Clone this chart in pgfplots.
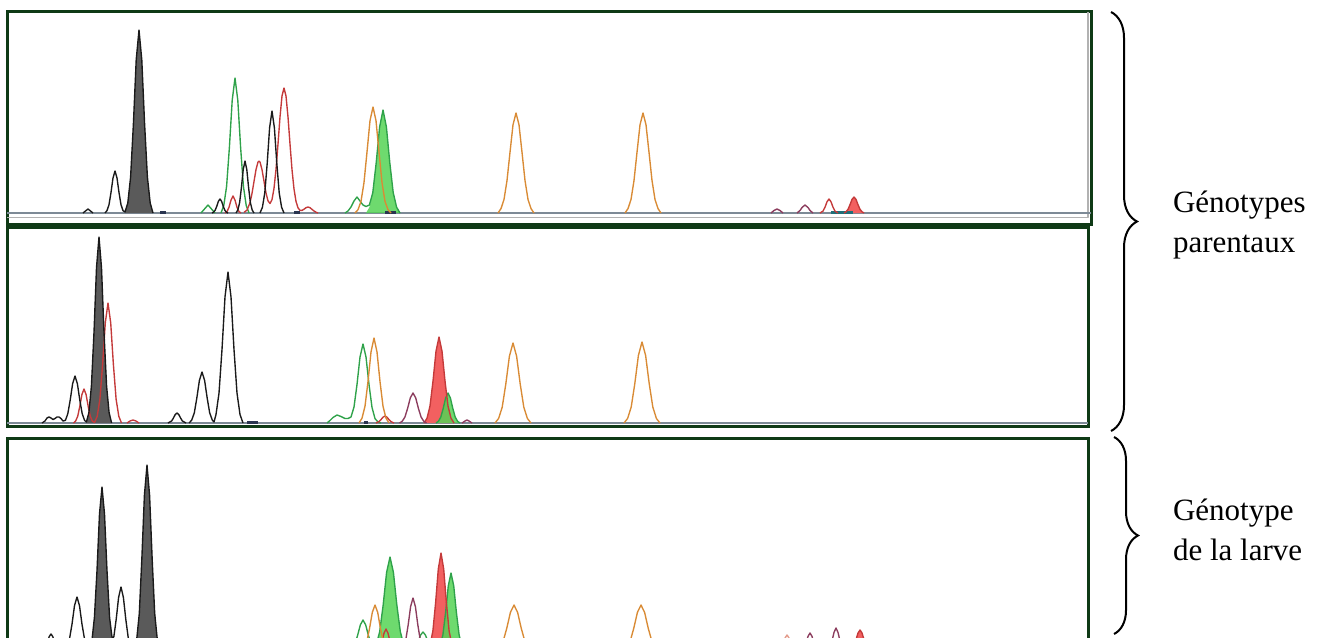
\documentclass[border=0pt]{standalone}
\usepackage{fontspec}
\setmainfont{Liberation Serif}
\usepackage{pgfplots}
\pgfplotsset{compat=1.18}
\usetikzlibrary{decorations.pathreplacing}

\definecolor{frame}{HTML}{0F3A16}
\definecolor{basec}{HTML}{7D8A96}
\definecolor{blk}{HTML}{1A1A1A}
\definecolor{blkfill}{HTML}{5A5A5A}
\definecolor{grn}{HTML}{2FA24A}
\definecolor{grnfill}{HTML}{55D455}
\definecolor{rd}{HTML}{C43A3A}
\definecolor{rdfill}{HTML}{F26060}
\definecolor{org}{HTML}{D98B35}
\definecolor{mar}{HTML}{8C3D5E}
\definecolor{pnk}{HTML}{E39A8A}
\definecolor{mk}{HTML}{2A3550}
\definecolor{tealbar}{HTML}{1F6F78}

\pgfplotsset{panel/.style={scale only axis, xmin=7, xtick=\empty, ytick=\empty,
  axis line style={draw=frame, line width=1.2pt}, unbounded coords=jump,
  every axis plot/.append style={line width=0.55pt, line join=round}}}

\begin{document}
\begin{tikzpicture}
\useasboundingbox (0pt,0pt) rectangle (528.8pt,254.8pt);
\clip (0pt,0pt) rectangle (528.8pt,254.8pt);

% ---------------- Panel 1 ----------------
\begin{axis}[panel, at={(2.8pt,165.2pt)}, anchor=south west,
  xmax=1091, width=433.6pt, ymin=-11, ymax=201, height=84.8pt]
\addplot[gray!60, line width=0.5pt] coordinates {(7,-4.5) (1088,-4.5) (1088,201)};
\addplot[basec, line width=0.7pt] coordinates {(7,0) (1091,0)};
% fills
\addplot[fill=blkfill, draw=none] coordinates {(125,0)(127.8,10)(130.6,36)(133.4,89)(136.2,153)(139,183)(141.8,153)(144.6,89)(147.4,36)(150.2,10)(153,0)};
\addplot[fill=grnfill, fill opacity=0.85, draw=none] coordinates {(366,0)(369.4,5.8)(372.8,20.4)(376.2,50.2)(379.6,86)(383,103)(386.4,86)(389.8,50.2)(393.2,20.4)(396.6,5.8)(400,0)};
\addplot[fill=rdfill, draw=none] coordinates {(844,0)(846,1.2)(848,3.7)(850,8.3)(852,13.6)(854,16)(856,13.6)(858,8.3)(860,3.7)(862,1.2)(864,0)};
% markers
\addplot[mk, line width=1.2pt] coordinates {(160,0.5)(166,0.5) (170,nan) (294,0.5)(300,0.5) (310,nan) (385,0.5)(396,0.5)};
\addplot[tealbar, line width=1.3pt] coordinates {(831,0.5)(853,0.5)};
% green
\addplot[grn] coordinates {(201,0)(204.5,4)(208,8)(211.5,4)(215,0) (218,nan)
 (221,0)(223.8,7.6)(226.6,26.7)(229.4,65.7)(232.2,112.7)(235,135)(237.8,112.7)(240.6,65.7)(243.4,26.7)(246.2,7.6)(249,0) (300,nan)
 (345,0)(348,2)(351,6)(354,12)(357,16)(360,12)(363,8)(366,6.5)(369.4,8)(372.8,20.4)(376.2,50.2)(379.6,86)(383,103)(386.4,86)(389.8,50.2)(393.2,20.4)(396.6,5.8)(400,0)};
% red
\addplot[rd] coordinates {(225,0)(227,1.4)(229,5.7)(231,12.9)(233,17)(235,12.9)(237,5.7)(239,1.4)(241,0) (242,nan)
 (244,0.6)(247,2.9)(250,10.3)(252,19.5)(254,31.5)(256,43.4)(258,51)(259,52)(260,51)(262,43.4)(264,31.7)(266,20.1)(268,12.1)(270,9.5)(272,13.4)(274,24.6)(276,43.6)(278,69)(280,96)(282,117)(284,125)(286,117)(288,96)(290,69)(292,43.4)(294,24)(296,11.6)(298,5.2)(300,2.6)(302,2.6)(304,3.8)(306,5.3)(308,6)(310,5.3)(312,3.6)(314,2)(316,0.8)(318,0) (500,nan)
 (820,0)(823,1.9)(825,5.8)(827,11.2)(829,14)(831,11.2)(833,5.8)(835,1.9)(838,0) (840,nan)
 (844,0)(846,1.2)(848,3.7)(850,8.3)(852,13.6)(854,16)(856,13.6)(858,8.3)(860,3.7)(862,1.2)(864,0)};
% maroon
\addplot[mar] coordinates {(771,0)(774,2.5)(777,4)(780,2.5)(783,0) (790,nan) (797,0)(800,2.5)(802,5.5)(805,8)(808,5.5)(810,2.5)(813,0)};
% orange
\addplot[org] coordinates {(355,0)(358,3.3)(361,11.6)(364,30.5)(367,61)(370,92.3)(373,106)(376,92.3)(379,61)(382,30.5)(385,11.6)(388,3.3)(391,0) (450,nan)
 (498,0)(501,4.4)(504,13.5)(507,32.5)(510,60.7)(513,88.2)(516,100)(519,88.2)(522,60.7)(525,32.5)(528,13.5)(531,4.4)(534,0) (580,nan)
 (625,0)(628,4.4)(631,13.5)(634,32.5)(637,60.7)(640,88.2)(643,100)(646,88.2)(649,60.7)(652,32.5)(655,13.5)(658,4.4)(661,0)};
% black
\addplot[blk] coordinates {(83,0)(85.5,2)(88,4)(90.5,2)(93,0) (100,nan)
 (105,0)(107,2.4)(109,8.3)(111,20.5)(113,35)(115,42)(117,35)(119,20.5)(121,8.3)(123,2.4)(125,1)(127.8,10)(130.6,36)(133.4,89)(136.2,153)(139,183)(141.8,153)(144.6,89)(147.4,36)(150.2,10)(153,0) (180,nan)
 (212,0)(213.6,0.8)(215.2,2.8)(216.8,6.8)(218.4,11.7)(220,14)(221.6,11.7)(223.2,6.8)(224.8,2.8)(226.4,0.8)(228,0) (232,nan)
 (236,0)(237.8,2.9)(239.6,10.3)(241.4,25.3)(243.2,43.4)(245,52)(246.8,43.4)(248.6,25.3)(250.4,10.3)(252.2,2.9)(254,0) (257,nan)
 (260,0)(262.4,5.7)(264.8,20.2)(267.2,49.7)(269.6,85.2)(272,102)(274.4,85.2)(276.8,49.7)(279.2,20.2)(281.6,5.7)(284,0)};
\end{axis}

% ---------------- Panel 2 ----------------
\begin{axis}[panel, at={(2.8pt,84.4pt)}, anchor=south west,
  xmax=1088, width=432.4pt, ymin=-3, ymax=196, height=79.6pt]
\addplot[basec, line width=0.7pt] coordinates {(7,0) (1088,0)};
\addplot[fill=blkfill, draw=none] coordinates {(86.4,0)(88.9,10.4)(91.4,36.8)(94,90.6)(96.5,155.3)(99,186)(101.5,155.3)(104,90.6)(106.6,36.8)(109.1,10.4)(111.6,0)};
\addplot[fill=rdfill, draw=none] coordinates {(424,0)(427,4.8)(430,17)(433,41.9)(436,71.8)(439,86)(442,71.8)(445,41.9)(448,17)(451,4.8)(454,0)};
\addplot[fill=grnfill, fill opacity=0.85, draw=none] coordinates {(436,0)(438.4,1.7)(440.8,5.9)(443.2,14.6)(445.6,25)(448,30)(450.4,25)(452.8,14.6)(455.2,5.9)(457.6,1.7)(460,0)};
\addplot[mk, line width=1.2pt] coordinates {(247,0.5)(258,0.5) (300,nan) (364,0.5)(368,0.5)};
% green
\addplot[grn] coordinates {(327,0)(330,2.5)(333,5.5)(337,8)(341,6.5)(345,4.5)(348,4.5)(351,6)(354,16)(357,38.5)(360,66)(363,79)(366,66)(369,38.5)(372,15.6)(375,4.4)(378,1)(381,0) (400,nan)
 (436,0)(438.4,1.7)(440.8,5.9)(443.2,14.6)(445.6,25)(448,30)(450.4,25)(452.8,14.6)(455.2,5.9)(457.6,1.7)(460,0)};
% red
\addplot[rd] coordinates {(73.5,0)(75.6,1.9)(77.7,6.7)(79.8,16.6)(81.9,28.4)(84,34)(86.1,28.4)(88.2,16.6)(90.3,6.7)(92.4,1.9)(94.5,0.5)(97.2,6.7)(99.9,23.8)(102.6,58.4)(105.3,100.2)(108,120)(110.7,100.2)(113.4,58.4)(116.1,23.8)(118.8,6.7)(121.5,0) (124,nan)
 (127,0)(130,2)(133,3)(136,2)(139,0) (200,nan)
 (376,0)(379,1.4)(381,3.4)(383,5.8)(385,7)(387,5.8)(389,3.4)(391,1.4)(394,0) (400,nan)
 (424,0)(427,4.8)(430,17)(433,41.9)(436,71.8)(439,86)(442,71.8)(445,41.9)(448,17)(451,4.8)(454,0)};
% maroon
\addplot[mar] coordinates {(399.5,0)(402.2,1.7)(404.9,5.9)(407.6,14.6)(410.3,25.1)(413,30)(415.7,25.1)(418.4,14.6)(421.1,5.9)(423.8,1.7)(426.5,0) (440,nan)
 (462,0)(465,2)(467,3)(469,2)(472,0)};
% orange
\addplot[org] coordinates {(359,0)(362,4.8)(365,16.8)(368,41.4)(371,71)(374,85)(377,71)(380,41.4)(383,16.8)(386,4.8)(389,0) (450,nan)
 (495,0)(498.6,4.5)(502.2,15.8)(505.8,39)(509.4,66.8)(513,80)(516.6,66.8)(520.2,39)(523.8,15.8)(527.4,4.5)(531,0) (580,nan)
 (624,0)(627.6,4.5)(631.2,16)(634.8,39.4)(638.4,67.6)(642,81)(645.6,67.6)(649.2,39.4)(652.8,16)(656.4,4.5)(660,0)};
% black
\addplot[blk] coordinates {(42,0)(45,2)(47,5)(49,6)(51,5)(53,3.5)(55,4.5)(57,6)(59,6)(61,4.5)(63,2)(65.4,2.6)(67.8,9.3)(70.2,22.9)(72.6,39.2)(75,47)(77.4,39.2)(79.8,22.9)(82.2,9.3)(84.6,2.6)(86.4,1)(88.9,10.4)(91.4,36.8)(94,90.6)(96.5,155.3)(99,186)(101.5,155.3)(104,90.6)(106.6,36.8)(109.1,10.4)(111.6,0) (140,nan)
 (168,0)(171.6,2)(173.4,4.9)(175.2,8.4)(177,10)(178.8,8.4)(180.6,4.9)(182.4,2)(186,0) (187,nan)
 (189.1,0)(191.7,2.9)(194.3,10.1)(196.8,24.8)(199.4,42.6)(202,51)(204.6,42.6)(207.2,24.8)(209.7,10.1)(212.3,2.9)(214,1)(216,8.5)(219,29.9)(222,73.5)(225,126.1)(228,151)(231,126.1)(234,73.5)(237,29.9)(240,8.5)(243,0)};
\end{axis}

% ---------------- Panel 3 ----------------
\begin{axis}[panel, at={(2.8pt,-9.2pt)}, anchor=south west,
  xmax=1088, width=432.4pt, ymin=-10, ymax=212, height=88.8pt]
\addplot[basec, line width=0.7pt] coordinates {(7,0) (1088,0)};
\addplot[fill=blkfill, draw=none] coordinates {(89.4,0)(91.9,9.1)(94.4,32.3)(97,79.4)(99.5,136.1)(102,163)(104.5,136.1)(107,79.4)(109.6,32.3)(112.1,9.1)(114.6,0)};
\addplot[fill=blkfill, draw=none] coordinates {(134.1,0)(136.7,10.4)(139.3,36.6)(141.8,90.1)(144.4,154.5)(147,185)(149.6,154.5)(152.2,90.1)(154.7,36.6)(157.3,10.4)(159.9,0)};
\addplot[fill=grnfill, fill opacity=0.85, draw=none] coordinates {(372.9,0)(376.3,5.2)(379.7,18.4)(383.2,45.3)(386.6,77.7)(390,93)(393.4,77.7)(396.8,45.3)(400.3,18.4)(403.7,5.2)(407.1,0)};
\addplot[fill=rdfill, draw=none] coordinates {(427.5,0)(430.2,5.4)(432.9,19.2)(435.6,47.2)(438.3,81)(441,97)(443.7,81)(446.4,47.2)(449.1,19.2)(451.8,5.4)(454.5,0)};
\addplot[fill=grnfill, fill opacity=0.85, draw=none] coordinates {(437.5,0)(440.2,4.3)(442.9,15.2)(445.6,37.5)(448.3,64.3)(451,77)(453.7,64.3)(456.4,37.5)(459.1,15.2)(461.8,4.3)(464.5,0)};
\addplot[fill=rdfill, draw=none] coordinates {(850,0)(852,1.5)(854,4.6)(856,10.4)(858,17)(860,20)(862,17)(864,10.4)(866,4.6)(868,1.5)(870,0)};
% green
\addplot[grn] coordinates {(349.5,0)(352.2,1.7)(354.9,5.9)(357.6,14.6)(360.3,25)(363,30)(365.7,25)(368.4,14.6)(371.1,5.9)(373.8,4)(376.3,5.2)(379.7,18.4)(383.2,45.3)(386.6,77.7)(390,93)(393.4,77.7)(396.8,45.3)(400.3,18.4)(403.7,5.2)(407.1,1)(411,1)(413.4,1.5)(415.8,3.6)(418.2,8.8)(420.6,15)(423,18)(425.4,15)(427.8,8.8)(430.2,3.6)(432.6,1.5)(437.5,1)(440.2,4.3)(442.9,15.2)(445.6,37.5)(448.3,64.3)(451,77)(453.7,64.3)(456.4,37.5)(459.1,15.2)(461.8,4.3)(464.5,0)};
% red
\addplot[rd] coordinates {(377,0)(380,2.8)(382,8.6)(384,16.8)(386,21)(388,16.8)(390,8.6)(392,2.8)(395,0) (410,nan)
 (427.5,0)(430.2,5.4)(432.9,19.2)(435.6,47.2)(438.3,81)(441,97)(443.7,81)(446.4,47.2)(449.1,19.2)(451.8,5.4)(454.5,0) (600,nan)
 (850,0)(852,1.5)(854,4.6)(856,10.4)(858,17)(860,20)(862,17)(864,10.4)(866,4.6)(868,1.5)(870,0)};
% maroon
\addplot[mar] coordinates {(401,0)(403.4,2.9)(405.8,10.3)(408.2,25.3)(410.6,43.4)(413,52)(415.4,43.4)(417.8,25.3)(420.2,10.3)(422.6,2.9)(425,0) (600,nan)
 (801,0)(804,2.3)(806,7)(808,13.6)(810,17)(812,13.6)(814,7)(816,2.3)(819,0) (820,nan)
 (827,0)(830,3)(832,9)(834,17.6)(836,22)(838,17.6)(840,9)(842,3)(845,0)};
% orange
\addplot[org] coordinates {(361.5,0)(364.2,2.5)(366.9,8.9)(369.6,21.9)(372.3,37.6)(375,45)(377.7,37.6)(380.4,21.9)(383.1,8.9)(385.8,2.5)(388.5,0) (450,nan)
 (496,0)(499.6,2.5)(503.2,8.9)(506.8,21.9)(510.4,37.6)(514,45)(517.6,37.6)(521.2,21.9)(524.8,8.9)(528.4,2.5)(532,0) (580,nan)
 (623,0)(626.6,2.5)(630.2,8.9)(633.8,21.9)(637.4,37.6)(641,45)(644.6,37.6)(648.2,21.9)(651.8,8.9)(655.4,2.5)(659,0)};
\addplot[pnk] coordinates {(778,0)(781,2)(783,6.2)(785,12)(787,15)(789,12)(791,6.2)(793,2)(796,0)};
% black
\addplot[blk] coordinates {(42,0)(43.8,0.9)(45.6,3.2)(47.4,7.8)(49.2,13.4)(51,16)(52.8,13.4)(54.6,7.8)(56.4,3.2)(58.2,0.9)(60,0) (62,nan)
 (64.4,0)(66.9,3)(69.4,10.5)(72,25.8)(74.5,44.3)(77,53)(79.5,44.3)(82,25.8)(84.6,10.5)(87.1,3)(89.4,0.5)(91.9,9.1)(94.4,32.3)(97,79.4)(99.5,136.1)(102,163)(104.5,136.1)(107,79.4)(109.6,32.3)(112.1,12)(113.8,13)(116.2,30.7)(118.6,52.6)(121,63)(123.4,52.6)(125.8,30.7)(128.2,12.5)(130.6,3.5)(133,1)(134.1,1)(136.7,10.4)(139.3,36.6)(141.8,90.1)(144.4,154.5)(147,185)(149.6,154.5)(152.2,90.1)(154.7,36.6)(157.3,10.4)(159.9,0)};
\end{axis}

% ---------------- Braces and labels ----------------
\draw[decorate, decoration={brace, amplitude=10.4pt}, line width=0.8pt] (444.4pt,250pt) -- (444.4pt,82.4pt);
\draw[decorate, decoration={brace, amplitude=9.6pt}, line width=0.8pt] (445.6pt,80pt) -- (445.6pt,1.2pt);
\node[anchor=base west, inner sep=0pt, font=\fontsize{12.4pt}{17pt}\selectfont] at (469pt,170pt) {Génotypes};
\node[anchor=base west, inner sep=0pt, font=\fontsize{12.4pt}{17pt}\selectfont] at (469pt,154pt) {parentaux};
\node[anchor=base west, inner sep=0pt, font=\fontsize{12.4pt}{17pt}\selectfont] at (469pt,46.8pt) {Génotype};
\node[anchor=base west, inner sep=0pt, font=\fontsize{12.4pt}{17pt}\selectfont] at (469pt,30.8pt) {de la larve};
\end{tikzpicture}
\end{document}
